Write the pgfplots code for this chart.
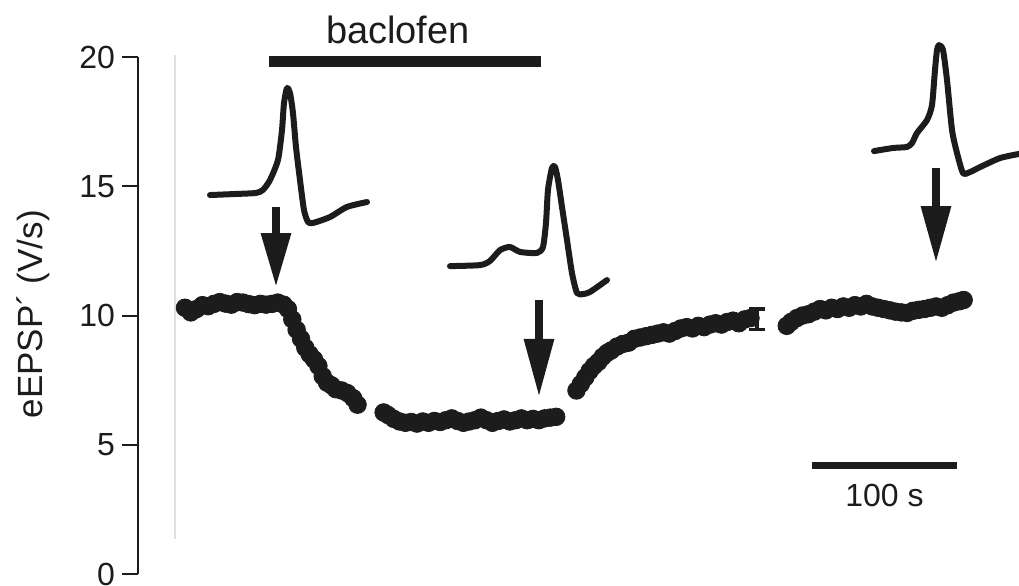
\documentclass[border=0pt]{standalone}
\usepackage{pgfplots}
\pgfplotsset{compat=1.18}
\usepackage{fontspec}
\setmainfont{Liberation Sans}
\usetikzlibrary{arrows.meta}
\definecolor{ink}{HTML}{1C1C1C}
\begin{document}
\begin{tikzpicture}
\begin{axis}[
  scale only axis, width=440.5pt, height=258.5pt,
  xmin=-32.41, xmax=575.17, ymin=0, ymax=20,
  axis x line=none, axis y line=left,
  axis line style={-, line width=1pt, ink},
  ytick={0,5,10,15,20},
  tick align=outside, major tick length=8pt,
  tick style={line width=1pt, ink},
  /pgf/number format/assume math mode=true,
  yticklabel style={font=\fontsize{16}{18}\selectfont, text=ink},
  clip=false,
]
\coordinate (bl) at (rel axis cs:0,0);
\coordinate (tr) at (rel axis cs:1,1);
% faint grey line
\draw[gray!25, line width=0.7pt] (axis cs:-6.9,20.08) -- (axis cs:-6.9,1.35);
% y label
\node[rotate=90, font=\fontsize{17.5}{19}\selectfont, text=ink] at (axis cs:-104.8,10.05) {eEPSP\char"00B4\ (V/s)};
% data
\addplot[only marks, mark=*, mark size=4.4pt, ink, mark options={fill=ink, draw=ink}] coordinates {
(0,10.30) (4,10.12) (8,10.25) (12,10.40) (16,10.36) (20,10.45) (24,10.52) (28,10.46) (32,10.42) (36,10.52) (40,10.50) (44,10.44) (48,10.40) (52,10.45) (56,10.42) (60,10.45) (64,10.50) (68,10.42)
(71,10.25) (74,9.85) (77,9.45) (80,9.10) (83,8.75) (86,8.50) (89,8.30) (92,8.05) (95,7.65) (98,7.40) (101,7.30) (104,7.15) (108,7.10) (112,7.00) (116,6.80) (119,6.55)
};
\addplot[only marks, mark=*, mark size=4.4pt, ink, mark options={fill=ink, draw=ink}] coordinates {
(137,6.25) (140,6.15) (144,6.00) (148,5.90) (152,5.85) (156,5.88) (160,5.82) (164,5.90) (168,5.85) (172,5.92) (176,5.88) (180,5.95) (184,6.02) (188,5.92) (192,5.85) (196,5.90) (200,5.95) (204,6.05) (208,5.95) (212,5.85) (216,5.92) (220,5.98) (224,5.90) (228,5.95) (232,6.02) (236,5.95) (240,6.00) (244,5.95) (248,6.02) (252,6.05) (256,6.08)
};
\addplot[only marks, mark=*, mark size=4.4pt, ink, mark options={fill=ink, draw=ink}] coordinates {
(270,7.10) (273,7.35) (276,7.60) (279,7.85) (282,8.05) (285,8.20) (288,8.40) (291,8.55) (294,8.65) (298,8.80) (302,8.90) (306,8.95) (310,9.10) (314,9.15) (318,9.20) (322,9.25) (326,9.30) (330,9.35) (334,9.30) (338,9.40) (342,9.50) (346,9.55) (350,9.50) (354,9.60) (358,9.55) (362,9.65) (366,9.70) (370,9.65) (374,9.75) (378,9.80) (382,9.70) (386,9.85) (390,9.90)
};
\addplot[draw=none, mark=none, ink, error bars/.cd, y dir=both, y explicit, error bar style={line width=1.6pt, ink}, error mark options={rotate=90, mark size=4pt, line width=1.8pt, ink}] coordinates {
(394.5,9.86) +- (0,0.40)
};
\addplot[only marks, mark=*, mark size=4.4pt, ink, mark options={fill=ink, draw=ink}] coordinates {
(415,9.60) (418,9.75) (422,9.90) (426,10.00) (430,10.05) (434,10.15) (438,10.25) (442,10.20) (446,10.30) (450,10.25) (454,10.35) (458,10.30) (462,10.40) (466,10.35) (470,10.45) (474,10.35) (478,10.30) (482,10.25) (486,10.20) (490,10.15) (494,10.12) (498,10.10) (502,10.18) (506,10.22) (510,10.25) (514,10.30) (518,10.35) (522,10.30) (526,10.40) (530,10.50) (534,10.55) (537,10.60)
};
% traces
\addplot[ink, line width=3pt, smooth, tension=0.4, mark=none, line join=round, line cap=round] coordinates {
(17.24,14.66) (34.48,14.70) (48.97,14.74) (53.79,14.86) (58.62,15.24) (64.14,16.02) (66.90,17.18) (68.28,18.22) (70.34,18.80) (72.41,18.61) (74.48,17.83) (76.55,16.52) (79.31,15.24) (82.07,14.08) (84.83,13.62) (88.28,13.58) (100.00,13.81) (111.72,14.20) (125.52,14.39)
};
\addplot[ink, line width=3pt, smooth, tension=0.4, mark=none, line join=round, line cap=round] coordinates {
(182.76,11.91) (203.45,11.95) (210.34,12.11) (217.24,12.53) (224.14,12.65) (231.03,12.46) (242.76,12.42) (246.90,12.65) (248.97,13.58) (250.34,14.86) (253.10,15.71) (255.17,15.75) (257.24,15.24) (260.00,14.20) (263.45,12.92) (266.90,11.64) (270.34,10.87) (274.48,10.83) (279.31,10.91) (291.03,11.37)
};
\addplot[ink, line width=3pt, smooth, tension=0.4, mark=none, line join=round, line cap=round] coordinates {
(475.17,16.36) (488.28,16.48) (497.93,16.52) (501.38,16.67) (504.83,17.06) (511.72,17.56) (515.17,18.14) (517.24,19.50) (518.62,20.27) (520.00,20.46) (522.76,20.27) (525.52,19.11) (528.97,17.18) (532.41,16.29) (536.55,15.51) (541.38,15.55) (548.28,15.74) (562.07,16.09) (575.17,16.25)
};
% arrows
\draw[ink, line width=4pt, -{Triangle[length=27pt, width=14.2pt]}] (axis cs:62.76,14.20) -- (axis cs:62.76,11.10);
\draw[ink, line width=4pt, -{Triangle[length=29pt, width=14.2pt]}] (axis cs:244.14,10.60) -- (axis cs:244.14,6.85);
\draw[ink, line width=4pt, -{Triangle[length=28.5pt, width=14.2pt]}] (axis cs:517.93,15.71) -- (axis cs:517.93,12.03);
% baclofen bar
\draw[ink, line width=5.5pt] (axis cs:57.93,19.81) -- (axis cs:245.52,19.81);
\node[anchor=base, font=\fontsize{19}{21}\selectfont, text=ink] at (axis cs:146.9,20.54) {baclofen};
% scale bar
\draw[ink, line width=3.8pt] (axis cs:432.2,4.20) -- (axis cs:532.6,4.20);
\node[anchor=base, font=\fontsize{16}{18}\selectfont, text=ink] at (axis cs:482.4,2.60) {100 s};
\end{axis}
\pgfresetboundingbox
\useasboundingbox ([xshift=-69pt,yshift=-5.5pt]bl) rectangle ([yshift=28.5pt]tr);
\end{tikzpicture}
\end{document}
